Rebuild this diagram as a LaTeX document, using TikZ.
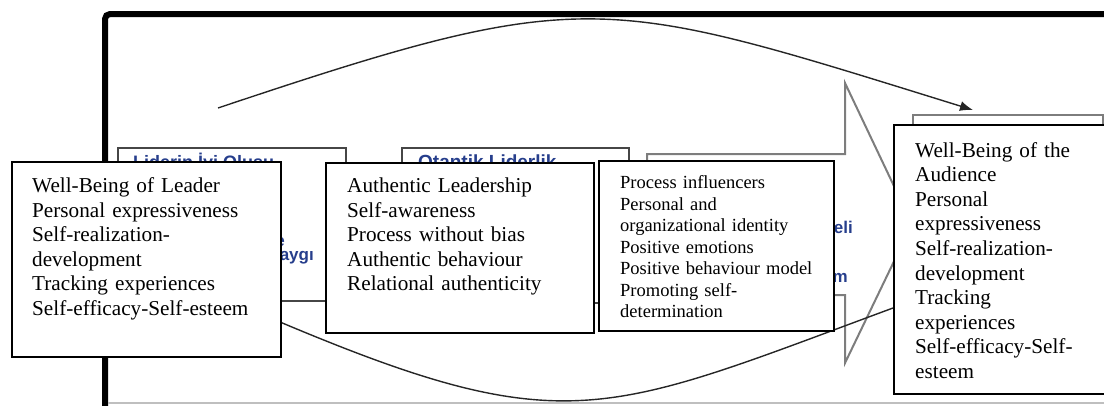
\documentclass[tikz,border=0pt]{standalone}
\usepackage{fontspec}
\setmainfont{Liberation Serif}
\newfontfamily\headfont{Liberation Sans}
\usetikzlibrary{arrows.meta}
\definecolor{trblue}{RGB}{38,62,140}
\definecolor{arrowgray}{RGB}{125,125,125}
\definecolor{oldframe}{RGB}{70,70,70}
\begin{document}
\begin{tikzpicture}[x=1pt,y=-1pt,
  textbox/.style={draw=black, line width=1.8pt, fill=white, anchor=north west, inner sep=0pt},
  oldbox/.style={draw=oldframe, line width=1.5pt, fill=white, anchor=north west, inner sep=0pt},
  graybox/.style={draw=arrowgray, line width=2pt, fill=white, anchor=north west, inner sep=0pt},
  bodytext/.style={anchor=base west, inner sep=0pt, align=left, text width=#1},
  bigfont/.style={font=\fontsize{21.2}{24.6}\selectfont},
  smallfont/.style={font=\fontsize{18.5}{21.5}\selectfont},
  trtext/.style={inner sep=0pt, text=trblue, font=\headfont\bfseries\fontsize{17}{19}\selectfont},
  curve/.style={line width=1.4pt, draw=black!85}
]
\clip (0,0) rectangle (1104,405);

% outer frame and its faint bottom rule
\draw[line width=6pt, rounded corners=5pt] (105,430) -- (105,14) -- (1130,14);
\draw[black!25, line width=1.5pt] (108,403) -- (1120,403);

% underlying boxes
\node[oldbox, minimum width=228pt, minimum height=153pt] (T1) at (117,147) {};
\node[oldbox, minimum width=227pt, minimum height=155pt] (T2) at (401,147) {};
\node[graybox, minimum width=190pt, minimum height=260pt] (T4) at (912,114) {};

% block arrow
\draw[arrowgray, line width=2pt, line join=miter]
  (647,154) -- (845,154) -- (845,83) -- (912,224) -- (845,363) -- (845,295) -- (647,295) -- cycle;

% headings and fragments of the underlying boxes
\node[trtext, anchor=base west, font=\headfont\bfseries\fontsize{18}{20}\selectfont] (T1head) at (133,168) {Liderin İyi Oluşu};
\node[trtext, anchor=base west, font=\headfont\bfseries\fontsize{19}{21}\selectfont] (T2head) at (418,168) {Otantik Liderlik};
\node[trtext, anchor=base east] (T1a) at (285,246) {e};
\node[trtext, anchor=base east] (T1b) at (314,260) {aygı};
\node[trtext, anchor=base east] (T3a) at (853,233) {eli};
\node[trtext, anchor=base east] (T3b) at (848,282) {m};

% connecting curves
\coordinate (topL) at (218,108);
\coordinate (topR) at (973,110);
\draw[curve, -{Latex[length=13pt,width=10pt]}] (topL) .. controls (588,-16) and (602,-5) .. (topR);
\coordinate (botL) at (280,322);
\coordinate (botR) at (893,308);
\draw[curve] (botL) .. controls (567,443) and (606,414) .. (botR);

% text boxes
\node[textbox, minimum width=269pt, minimum height=195pt] (A) at (11,161) {};
\node[bodytext=240pt, bigfont] (Atext) at (32,192.5)
  {Well-Being of Leader\\Personal expressiveness\\Self-realization-\\development\\Tracking experiences\\Self-efficacy-Self-esteem};

\node[textbox, minimum width=268pt, minimum height=170pt] (B) at (325,162) {};
\node[bodytext=240pt, bigfont] (Btext) at (347,192.5)
  {Authentic Leadership\\Self-awareness\\Process without bias\\Authentic behaviour\\Relational authenticity};

\node[textbox, minimum width=235pt, minimum height=170pt] (C) at (598,160) {};
\node[bodytext=210pt, smallfont] (Ctext) at (620,188.5)
  {Process influencers\\Personal and\\organizational identity\\Positive emotions\\Positive behaviour model\\Promoting self-\\determination};

\node[textbox, minimum width=240pt, minimum height=269pt] (D) at (893,124) {};
\node[bodytext=185pt, bigfont] (Dtext) at (915,157)
  {Well-Being of the\\Audience\\Personal\\expressiveness\\Self-realization-\\development\\Tracking\\experiences\\Self-efficacy-Self-\\esteem};
\end{tikzpicture}
\end{document}
